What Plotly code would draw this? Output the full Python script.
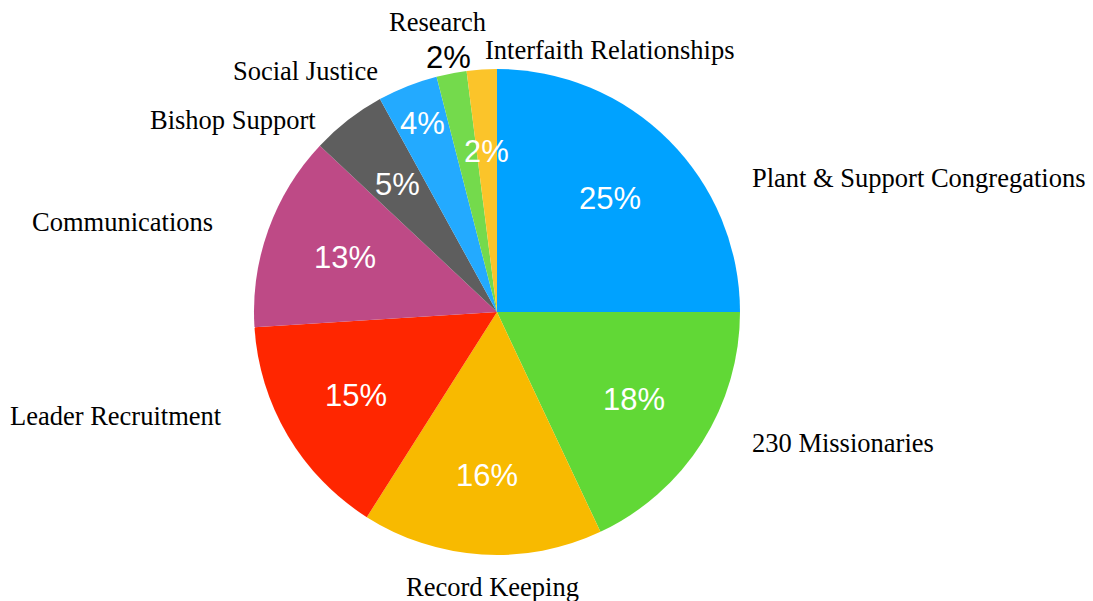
import math
import plotly.graph_objects as go

# ---- data ----
categories = ["Plant & Support Congregations", "230 Missionaries", "Record Keeping",
              "Leader Recruitment", "Communications", "Bishop Support",
              "Social Justice", "Research", "Interfaith Relationships"]
values = [25, 18, 16, 15, 13, 5, 4, 2, 2]
colors = ["#00A2FF", "#61D836", "#F8BA00", "#FF2600", "#BE4A86", "#5E5E5E",
          "#23AAFF", "#74DA4C", "#FBC42A"]

# ---- layout geometry (pixels) ----
W, H = 1093, 601
CX, CY, R = 497, 312, 243

def px_to_paper(x, y):
    return x / W, 1 - y / H

fig = go.Figure(go.Pie(
    labels=categories, values=values, sort=False, direction="clockwise", rotation=0,
    marker=dict(colors=colors, line=dict(width=0)),
    textinfo="none", hoverinfo="label+percent", showlegend=False,
    domain=dict(x=[(CX - R) / W, (CX + R) / W], y=[(H - CY - R) / H, (H - CY + R) / H]),
))

annotations = []
# percentage labels placed at slice mid-angles
radius_frac = [0.66, 0.67, 0.675, 0.675, 0.665, 0.665, 0.835, 1.065, 0.66]
total = sum(values)
cum = 0
for i, v in enumerate(values):
    mid = (cum + v / 2) / total * 2 * math.pi
    cum += v
    r = R * radius_frac[i]
    x = CX + r * math.sin(mid)
    y = CY - r * math.cos(mid)
    px, py = px_to_paper(x, y)
    outside = radius_frac[i] > 1
    annotations.append(dict(
        x=px, y=py, xref="paper", yref="paper", text=f"{round(v / total * 100)}%",
        showarrow=False, xanchor="center", yanchor="middle",
        font=dict(family="Liberation Sans, Arial, sans-serif", size=31,
                  color="#000000" if outside else "#FFFFFF")))

# category labels (pixel anchor, alignment)
label_pos = [(750, 178, "left"), (750, 443, "left"), (492, 587, "center"),
             (224, 416, "right"), (215, 222, "right"), (318, 120, "right"),
             (380, 71, "right"), (437, 22, "center"), (483, 50, "left")]
for name, (x, y, anchor) in zip(categories, label_pos):
    px, py = px_to_paper(x, y)
    annotations.append(dict(
        x=px, y=py, xref="paper", yref="paper", text=name, showarrow=False,
        xanchor=anchor, yanchor="middle",
        font=dict(family="Liberation Serif, Times New Roman, serif", size=26.5, color="#000000")))

fig.update_layout(
    width=W, height=H, margin=dict(l=0, r=0, t=0, b=0),
    paper_bgcolor="white", plot_bgcolor="white",
    annotations=annotations,
)

fig.write_html("out.html", config={"displayModeBar": False},
               post_script="document.body.style.margin='0';document.body.style.overflow='hidden';")
